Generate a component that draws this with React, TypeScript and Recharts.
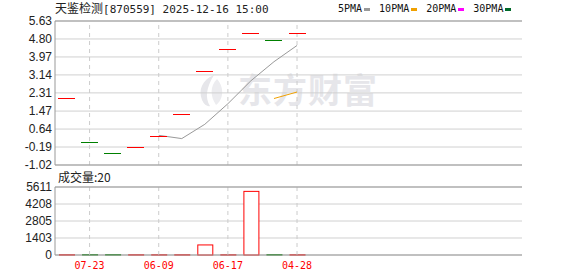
import React from "react";
import { ComposedChart, Bar, Line, XAxis, YAxis, CartesianGrid, ReferenceLine } from "recharts";

// price data (flat candles, open = close)
const closePrices = [2.07, 0.03, -0.47, -0.21, 0.32, 1.32, 3.32, 4.32, 5.06, 4.74, 5.06];
const candleSide = ["up", "down", "down", "up", "up", "up", "up", "up", "up", "down", "up"];
const ma5 = [null, null, null, null, 0.35, 0.2, 0.86, 1.81, 2.87, 3.75, 4.5];
const ma10 = [null, null, null, null, null, null, null, null, null, 2.05, 2.35];
const volumes = [20, 30, 30, 20, 20, 20, 830, 20, 5250, 30, 20];

const priceTicks = [5.63, 4.8, 3.97, 3.14, 2.31, 1.47, 0.64, -0.19, -1.02];
const volumeTicks = [0, 1403, 2805, 4208, 5611];
const xTickSlots = [1, 4, 7, 10];
const xTickLabels = ["07-23", "06-09", "06-17", "04-28"];
const slotCount = 20;

const legendItems = [
    { name: "5PMA", color: "#999999" },
    { name: "10PMA", color: "#f0a000" },
    { name: "20PMA", color: "#ff00ff" },
    { name: "30PMA", color: "#006a2a" },
];

const UP = "#ff0000";
const DOWN = "#008000";

const data: any[] = [];
for (let i = 0; i < slotCount; i++) {
    data.push({
        key: "s" + i,
        close: i < closePrices.length ? closePrices[i] : null,
        side: candleSide[i],
        ma5: i < ma5.length ? ma5[i] : null,
        ma10: i < ma10.length ? ma10[i] : null,
        vol: i < volumes.length ? volumes[i] : null,
    });
}

const tickKeys = xTickSlots.map((i) => "s" + i);
const tickName = (k: string) => {
    const idx = tickKeys.indexOf(k);
    return idx >= 0 ? xTickLabels[idx] : "";
};

const CandleMark = (props: any) => {
    const { cx, cy, payload } = props;
    if (payload == null || payload.close == null || cx == null || cy == null) return <g key={"e" + props.index} />;
    const y = Math.round(cy) + 0.5;
    return (
        <line
            key={"c" + props.index}
            x1={cx - 8.5}
            x2={cx + 8.5}
            y1={y}
            y2={y}
            stroke={payload.side === "up" ? UP : DOWN}
            strokeWidth={1}
            shapeRendering="crispEdges"
        />
    );
};

const VolumeBar = (props: any) => {
    const { x, y, width, height, payload } = props;
    if (payload == null || payload.vol == null) return null;
    return (
        <rect
            x={x + 0.5}
            y={y}
            width={width - 1}
            height={Math.max(height, 0.3)}
            fill="#fff"
            stroke={payload.side === "up" ? UP : DOWN}
            strokeWidth={1}
        />
    );
};

const axisTick = { fill: "#222", fontSize: 12, fontFamily: "'Liberation Sans', Arial, sans-serif" };
const mono = "'DejaVu Sans Mono', 'Liberation Mono', monospace";

export default function App() {
    return (
        <div style={{ position: "absolute", left: 0, top: 0, width: 578, height: 276, background: "#fff", overflow: "hidden" }}>
            {/* watermark */}
            <svg style={{ position: "absolute", left: 196, top: 74 }} width={30} height={33}>
                <path d="M18 1 C6 6 2 16 6 26 C8 31 12 33 14 32 C9 24 10 14 18 1 Z" fill="#e6e6ea" />
                <path d="M21 5 C14 12 14 22 20 31 C27 26 29 14 21 5 Z" fill="#ececef" />
            </svg>
            <div
                style={{
                    position: "absolute",
                    left: 238,
                    top: 71,
                    fontSize: 34,
                    lineHeight: "36px",
                    fontWeight: 700,
                    letterSpacing: 1,
                    color: "#e6e6ea",
                    fontFamily: "'Noto Sans CJK SC', sans-serif",
                }}
            >
                东方财富
            </div>

            <div
                style={{
                    position: "absolute",
                    left: 55,
                    top: 1,
                    fontSize: 12,
                    lineHeight: "14px",
                    color: "#222",
                    whiteSpace: "nowrap",
                    fontFamily: "'Noto Sans CJK SC', sans-serif",
                }}
            >
                天鉴检测<span style={{ fontFamily: mono, fontSize: 11 }}>[870559] 2025-12-16 15:00</span>
            </div>

            <div style={{ position: "absolute", left: 338, top: 3, display: "flex", alignItems: "center", fontFamily: mono, fontSize: 10, lineHeight: "12px", color: "#111" }}>
                {legendItems.map((it) => (
                    <span key={it.name} style={{ display: "flex", alignItems: "center", marginRight: 9 }}>
                        {it.name}
                        <span style={{ display: "inline-block", width: 6, height: 3, background: it.color, marginLeft: 2 }} />
                    </span>
                ))}
            </div>

            <div
                style={{
                    position: "absolute",
                    left: 58,
                    top: 170,
                    fontSize: 12,
                    lineHeight: "14px",
                    color: "#222",
                    whiteSpace: "nowrap",
                    fontFamily: "'Noto Sans CJK SC', sans-serif",
                }}
            >
                成交量:20
            </div>

            <div style={{ position: "absolute", left: 0, top: 0 }}>
                <ComposedChart width={578} height={176} data={data} margin={{ top: 21, right: 56, bottom: 11, left: 0 }}>
                    <CartesianGrid vertical={false} stroke="#d0d0d0" />
                    <XAxis dataKey="key" hide scale="band" padding={{ left: 0, right: 6 }} />
                    <YAxis
                        width={55}
                        domain={[-1.02, 5.63]}
                        ticks={priceTicks}
                        interval={0}
                        tickFormatter={(v: number) => v.toFixed(2)}
                        tick={axisTick}
                        tickLine={false}
                        tickSize={0}
                        tickMargin={3}
                        axisLine={{ stroke: "#999" }}
                    />
                    <YAxis yAxisId="r" orientation="right" width={0} tick={false} tickLine={false} axisLine={{ stroke: "#999" }} />
                    {tickKeys.map((k) => (
                        <ReferenceLine key={k} x={k} stroke="#cccccc" strokeDasharray="4 4" />
                    ))}
                    <ReferenceLine y={5.63} stroke="#999" />
                    <ReferenceLine y={-1.02} stroke="#999" />
                    <Line dataKey="ma5" stroke="#999999" strokeWidth={1} dot={false} isAnimationActive={false} />
                    <Line dataKey="ma10" stroke="#f0a000" strokeWidth={1} dot={false} isAnimationActive={false} />
                    <Line dataKey="close" stroke="none" dot={<CandleMark />} activeDot={false} isAnimationActive={false} />
                </ComposedChart>
            </div>

            <div style={{ position: "absolute", left: 0, top: 170 }}>
                <ComposedChart width={578} height={106} data={data} margin={{ top: 17, right: 56, bottom: 0, left: 0 }}>
                    <CartesianGrid vertical={false} stroke="#d0d0d0" />
                    <XAxis
                        dataKey="key"
                        height={21}
                        scale="band"
                        padding={{ left: 0, right: 6 }}
                        ticks={tickKeys}
                        interval={0}
                        tickFormatter={tickName}
                        tick={{ fill: "#ff0000", fontSize: 10, fontFamily: mono }}
                        tickLine={false}
                        tickSize={0}
                        tickMargin={7}
                        axisLine={{ stroke: "#999" }}
                    />
                    <YAxis
                        width={55}
                        domain={[0, 5611]}
                        ticks={volumeTicks}
                        interval={0}
                        tick={axisTick}
                        tickLine={false}
                        tickSize={0}
                        tickMargin={3}
                        axisLine={{ stroke: "#999" }}
                    />
                    <YAxis yAxisId="r" orientation="right" width={0} tick={false} tickLine={false} axisLine={{ stroke: "#999" }} />
                    {tickKeys.map((k) => (
                        <ReferenceLine key={k} x={k} stroke="#cccccc" strokeDasharray="4 4" />
                    ))}
                    <ReferenceLine y={5611} stroke="#999" />
                    <Bar dataKey="vol" barSize={16} shape={<VolumeBar />} isAnimationActive={false} />
                </ComposedChart>
            </div>
        </div>
    );
}
